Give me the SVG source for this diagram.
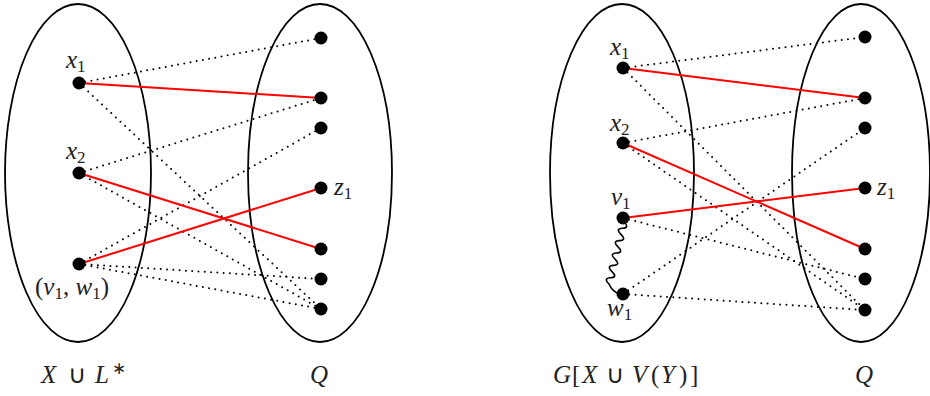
<svg xmlns="http://www.w3.org/2000/svg" width="930" height="396" viewBox="0 0 930 396">
<style>
.set{fill:none;stroke:#000;stroke-width:1.8}
.dot{fill:#000}
.dt{stroke:#000;stroke-width:2;stroke-linecap:round;stroke-dasharray:0 6.3;fill:none}
.rd{stroke:#ff0000;stroke-width:2;fill:none}
.wv{fill:none;stroke:#000;stroke-width:1.6}
</style>
<rect width="930" height="396" fill="#fff"/>
<g id="sets">
<ellipse class="set" cx="78" cy="173" rx="73" ry="169"/>
<ellipse class="set" cx="320" cy="173" rx="72" ry="169"/>
<ellipse class="set" cx="622" cy="173" rx="72" ry="169"/>
<ellipse class="set" cx="861" cy="173" rx="69" ry="169"/>
</g>
<g id="connectors">
<line class="dt" x1="79" y1="83" x2="321" y2="38"/>
<line class="dt" x1="79" y1="83" x2="321" y2="309"/>
<line class="dt" x1="79" y1="173" x2="321" y2="98"/>
<line class="dt" x1="79" y1="173" x2="321" y2="309"/>
<line class="dt" x1="79" y1="264" x2="321" y2="128"/>
<line class="dt" x1="79" y1="264" x2="321" y2="279"/>
<line class="dt" x1="79" y1="264" x2="321" y2="309"/>
<line class="rd" x1="79" y1="83" x2="321" y2="98"/>
<line class="rd" x1="79" y1="173" x2="321" y2="249"/>
<line class="rd" x1="79" y1="264" x2="321" y2="188"/>
<line class="dt" x1="623" y1="68" x2="865" y2="37"/>
<line class="dt" x1="623" y1="68" x2="865" y2="310"/>
<line class="dt" x1="623" y1="143" x2="865" y2="98"/>
<line class="dt" x1="623" y1="143" x2="865" y2="310"/>
<line class="dt" x1="623" y1="218" x2="865" y2="279"/>
<line class="dt" x1="623" y1="294" x2="865" y2="128"/>
<line class="dt" x1="623" y1="294" x2="865" y2="310"/>
<line class="rd" x1="623" y1="68" x2="865" y2="98"/>
<line class="rd" x1="623" y1="143" x2="865" y2="249"/>
<line class="rd" x1="623" y1="218" x2="865" y2="188"/>
<path class="wv" d="M624 222 Q630 227.8 622.5 228.2 T621 234.4 T619.5 240.6 T618 246.8 T616.5 253 T615 259.2 T613.5 265.4 T612 271.6 T610.5 277.8 T609 284 Q612 291 619 294"/>
</g>
<g font-family="Liberation Serif, Times New Roman, serif" font-size="25" fill="#222">
<g id="left-X">
<circle class="dot" cx="79" cy="83" r="6.5"/>
<circle class="dot" cx="79" cy="173" r="6.5"/>
<circle class="dot" cx="79" cy="264" r="6.5"/>
<text x="66" y="68"><tspan font-style="italic">x</tspan><tspan font-size="17" dy="4">1</tspan></text>
<text x="66" y="159"><tspan font-style="italic">x</tspan><tspan font-size="17" dy="4">2</tspan></text>
<text x="35" y="295">(<tspan font-style="italic">v</tspan><tspan font-size="17" dy="4">1</tspan><tspan dy="-4">, </tspan><tspan font-style="italic">w</tspan><tspan font-size="17" dy="4">1</tspan><tspan dy="-4">)</tspan></text>
</g>
<g id="left-Q">
<circle class="dot" cx="321" cy="38" r="6.5"/>
<circle class="dot" cx="321" cy="98" r="6.5"/>
<circle class="dot" cx="321" cy="128" r="6.5"/>
<circle class="dot" cx="321" cy="188" r="6.5"/>
<circle class="dot" cx="321" cy="249" r="6.5"/>
<circle class="dot" cx="321" cy="279" r="6.5"/>
<circle class="dot" cx="321" cy="309" r="6.5"/>
<text x="334" y="195"><tspan font-style="italic">z</tspan><tspan font-size="17" dy="4">1</tspan></text>
</g>
<g id="right-X">
<circle class="dot" cx="623" cy="68" r="6.5"/>
<circle class="dot" cx="623" cy="143" r="6.5"/>
<circle class="dot" cx="623" cy="218" r="6.5"/>
<circle class="dot" cx="623" cy="294" r="6.5"/>
<text x="610" y="55"><tspan font-style="italic">x</tspan><tspan font-size="17" dy="4">1</tspan></text>
<text x="610" y="131"><tspan font-style="italic">x</tspan><tspan font-size="17" dy="4">2</tspan></text>
<text x="611" y="205"><tspan font-style="italic">v</tspan><tspan font-size="17" dy="4">1</tspan></text>
<text x="607" y="316"><tspan font-style="italic">w</tspan><tspan font-size="17" dy="4">1</tspan></text>
</g>
<g id="right-Q">
<circle class="dot" cx="865" cy="37" r="6.5"/>
<circle class="dot" cx="865" cy="98" r="6.5"/>
<circle class="dot" cx="865" cy="128" r="6.5"/>
<circle class="dot" cx="865" cy="188" r="6.5"/>
<circle class="dot" cx="865" cy="249" r="6.5"/>
<circle class="dot" cx="865" cy="279" r="6.5"/>
<circle class="dot" cx="865" cy="310" r="6.5"/>
<text x="877" y="195"><tspan font-style="italic">z</tspan><tspan font-size="17" dy="4">1</tspan></text>
</g>
<g id="captions">
<text y="383"><tspan font-style="italic" x="41">X</tspan><tspan x="68">∪</tspan><tspan font-style="italic" x="95">L</tspan><tspan font-size="17" x="112" dy="-9">∗</tspan></text>
<text font-style="italic" x="310" y="383">Q</text>
<text y="383"><tspan font-style="italic" x="553">G</tspan><tspan x="572">[</tspan><tspan font-style="italic" x="582">X</tspan><tspan x="606">∪</tspan><tspan font-style="italic" x="632">V</tspan><tspan x="651">(</tspan><tspan font-style="italic" x="661">Y</tspan><tspan x="679">)</tspan><tspan x="690">]</tspan></text>
<text font-style="italic" x="855" y="383">Q</text>
</g>
</g>
</svg>
